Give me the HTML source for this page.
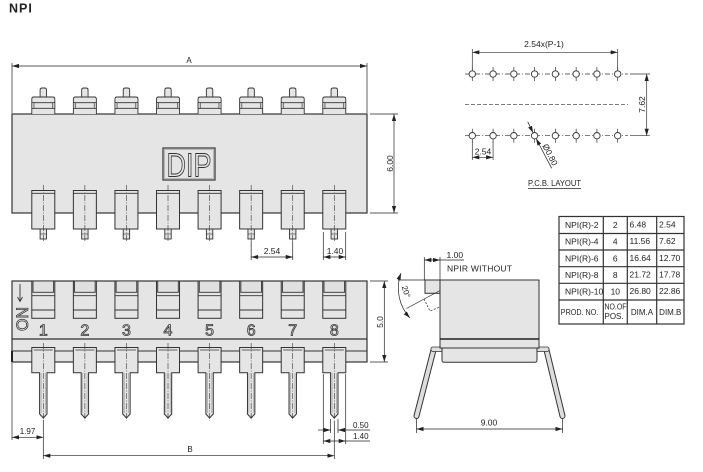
<!DOCTYPE html>
<html><head><meta charset="utf-8"><style>
html,body{margin:0;padding:0;background:#fff;}
svg{display:block;}
</style></head><body>
<svg width="703" height="472" viewBox="0 0 703 472" xmlns="http://www.w3.org/2000/svg" font-family="Liberation Sans, sans-serif">
<defs>
<marker id="ar" markerWidth="7" markerHeight="5" refX="7" refY="2.5" orient="auto-start-reverse" markerUnits="userSpaceOnUse"><path d="M0,0.4 L7,2.5 L0,4.6 Z" fill="#222"/></marker>
<g id="ta">
 <path d="M-3.2,97 V90 Q-3.2,88 -1.2,88 H1.2 Q3.2,88 3.2,90 V97" fill="#e5e5e6" stroke="#333" stroke-width="0.9"/>
 <path d="M-11.5,114 V99 Q-11.5,97 -9.5,97 H9.5 Q11.5,97 11.5,99 V114" fill="#e5e5e6" stroke="#333" stroke-width="0.9"/>
 <path d="M-11.5,102.7 H11.5 M-11.5,108.3 H11.5" stroke="#333" stroke-width="0.8" fill="none"/>
 <rect x="-11.5" y="102.7" width="2.2" height="5.6" fill="#ccc" stroke="#333" stroke-width="0.6"/>
 <rect x="9.3" y="102.7" width="2.2" height="5.6" fill="#ccc" stroke="#333" stroke-width="0.6"/>
</g>
<g id="bs">
 <rect x="-11.5" y="190.5" width="23" height="38.5" fill="#e5e5e6" stroke="#333" stroke-width="1"/>
 <path d="M-11.5,193.3 H11.5" stroke="#333" stroke-width="0.8"/>
 <rect x="-3.2" y="229" width="6.4" height="10" fill="#e5e5e6" stroke="#333" stroke-width="0.9"/>
 <path d="M-3.2,234 H3.2" stroke="#333" stroke-width="0.6"/>
 <path d="M0,185 V242" stroke="#333" stroke-width="0.6" stroke-dasharray="6,1.5,1,1.5"/>
</g>
<g id="fs">
 <rect x="-11.5" y="281" width="23" height="37.3" fill="#e5e5e6" stroke="#333" stroke-width="1"/>
 <rect x="-10.3" y="281" width="20.6" height="11.3" fill="#e0e0e1" stroke="#333" stroke-width="0.9"/>
 <path d="M-11.5,295.7 H11.5 M-11.5,310 H11.5" stroke="#333" stroke-width="0.9"/>
</g>
<g id="fp">
 <path d="M-11.5,347.5 H11.5 V372.7 H3.7 V414 L0,418 L-3.7,414 V372.7 H-11.5 Z" fill="#e5e5e6" stroke="#333" stroke-width="1"/>
 <path d="M-9.5,350 H9.5" stroke="#333" stroke-width="0.7"/>
 <path d="M-2.2,373 V413 M2.2,373 V413" stroke="#999" stroke-width="0.6"/>
 <path d="M0,343 V421" stroke="#333" stroke-width="0.6" stroke-dasharray="6,1.5,1,1.5"/>
</g>
</defs>

<text x="9" y="12.5" font-size="12.5" font-weight="bold" letter-spacing="1" fill="#222">NPI</text>

<!-- TOP VIEW -->
<g stroke="#222" stroke-width="0.7" fill="none">
 <path d="M12,63V113 M367,63V113"/>
 <line x1="12" y1="66" x2="367" y2="66" marker-start="url(#ar)" marker-end="url(#ar)"/>
 <path d="M370,114H398 M370,213H398"/>
 <line x1="394" y1="114" x2="394" y2="213" marker-start="url(#ar)" marker-end="url(#ar)"/>
 <path d="M251.15,241V260 M292.72,241V260 M323.3,232V260 M345.7,232V260"/>
 <line x1="251.15" y1="257" x2="292.72" y2="257" marker-start="url(#ar)" marker-end="url(#ar)"/>
 <line x1="323.3" y1="257" x2="345.7" y2="257" marker-start="url(#ar)" marker-end="url(#ar)"/>
</g>
<text x="189" y="63" font-size="8" text-anchor="middle" fill="#222">A</text>
<text transform="translate(393,163.5) rotate(-90)" font-size="8.5" text-anchor="middle" fill="#222">6.00</text>
<text x="272" y="254" font-size="8.5" text-anchor="middle" fill="#222">2.54</text>
<text x="335" y="254" font-size="8.5" text-anchor="middle" fill="#222">1.40</text>

<rect x="12" y="114" width="355" height="99" fill="#e5e5e6" stroke="#333" stroke-width="1.2"/>
<use href="#ta" x="43.3"/><use href="#ta" x="84.87"/><use href="#ta" x="126.44"/><use href="#ta" x="168.01"/>
<use href="#ta" x="209.58"/><use href="#ta" x="251.15"/><use href="#ta" x="292.72"/><use href="#ta" x="334.29"/>
<use href="#bs" x="43.3"/><use href="#bs" x="84.87"/><use href="#bs" x="126.44"/><use href="#bs" x="168.01"/>
<use href="#bs" x="209.58"/><use href="#bs" x="251.15"/><use href="#bs" x="292.72"/><use href="#bs" x="334.29"/>

<rect x="163" y="148" width="52" height="32" fill="none" stroke="#333" stroke-width="1.2"/>
<rect x="164.6" y="149.6" width="48.8" height="28.8" fill="none" stroke="#999" stroke-width="0.6"/>
<text x="189" y="176.5" font-size="33" text-anchor="middle" textLength="45" lengthAdjust="spacingAndGlyphs" fill="#e5e5e6" stroke="#333" stroke-width="0.9">DIP</text>

<!-- PCB LAYOUT -->
<g stroke="#333" stroke-width="0.7" fill="none">
 <path d="M465,74H628 M465,135.7H628" stroke-dasharray="5,2,1,2"/>
 <path d="M465,104.3H628" stroke-dasharray="4,2"/>
 <path d="M630,74H650 M630,135.7H650"/>
 <path d="M472.3,49V70 M617.69,49V70 M472.3,141V160 M493.07,141V160"/>
 <line x1="472.3" y1="52.3" x2="617.69" y2="52.3" marker-start="url(#ar)" marker-end="url(#ar)"/>
 <line x1="646.7" y1="74" x2="646.7" y2="135.7" marker-start="url(#ar)" marker-end="url(#ar)"/>
 <line x1="472.3" y1="157.3" x2="493.07" y2="157.3" marker-start="url(#ar)" marker-end="url(#ar)"/>
 <path d="M472.3,67V81 M493.07,67V81 M513.84,67V81 M534.61,67V81 M555.38,67V81 M576.15,67V81 M596.92,67V81 M617.69,67V81"/>
 <path d="M472.3,128.7V142.7 M493.07,128.7V142.7 M513.84,128.7V142.7 M534.61,128.7V142.7 M555.38,128.7V142.7 M576.15,128.7V142.7 M596.92,128.7V142.7 M617.69,128.7V142.7"/>
</g>
<g fill="#fff" stroke="#333" stroke-width="0.9">
 <circle cx="472.3" cy="74" r="3.2"/><circle cx="493.07" cy="74" r="3.2"/><circle cx="513.84" cy="74" r="3.2"/><circle cx="534.61" cy="74" r="3.2"/>
 <circle cx="555.38" cy="74" r="3.2"/><circle cx="576.15" cy="74" r="3.2"/><circle cx="596.92" cy="74" r="3.2"/><circle cx="617.69" cy="74" r="3.2"/>
 <circle cx="472.3" cy="135.7" r="3.2"/><circle cx="493.07" cy="135.7" r="3.2"/><circle cx="513.84" cy="135.7" r="3.2"/><circle cx="534.61" cy="135.7" r="3.2"/>
 <circle cx="555.38" cy="135.7" r="3.2"/><circle cx="576.15" cy="135.7" r="3.2"/><circle cx="596.92" cy="135.7" r="3.2"/><circle cx="617.69" cy="135.7" r="3.2"/>
</g>
<g stroke="#222" stroke-width="0.7" fill="none">
 <line x1="527.7" y1="121.7" x2="533.1" y2="132.9" marker-end="url(#ar)"/>
 <line x1="551.7" y1="168.3" x2="536.1" y2="138.5" marker-end="url(#ar)"/>
 <path d="M528,188.5H581"/>
</g>
<text x="544" y="47" font-size="8.5" text-anchor="middle" fill="#222">2.54x(P-1)</text>
<text transform="translate(645,104.5) rotate(-90)" font-size="8.5" text-anchor="middle" fill="#222">7.62</text>
<text x="483" y="154.5" font-size="8.5" text-anchor="middle" fill="#222">2.54</text>
<text transform="translate(547.5,156) rotate(62.7)" font-size="8.5" text-anchor="middle" fill="#222">Ø0.80</text>
<text x="528" y="186" font-size="8" textLength="53" lengthAdjust="spacingAndGlyphs" fill="#222">P.C.B. LAYOUT</text>

<!-- TABLE -->
<g stroke="#333" stroke-width="1.2" fill="none">
 <rect x="559" y="216.5" width="125" height="107.5"/>
 <path d="M559,233.5H684 M559,250H684 M559,266.7H684 M559,283.3H684 M559,300H684"/>
 <path d="M603.3,216.5V324 M627.3,216.5V324 M656.7,216.5V324"/>
</g>
<g font-size="8.5" fill="#222">
 <text x="565" y="228">NPI(R)-2</text><text x="615.3" y="228" text-anchor="middle">2</text><text x="629.5" y="227.5">6.48</text><text x="659" y="227.5">2.54</text>
 <text x="565" y="244.7">NPI(R)-4</text><text x="615.3" y="244.7" text-anchor="middle">4</text><text x="629.5" y="244.2">11.56</text><text x="659" y="244.2">7.62</text>
 <text x="565" y="261.3">NPI(R)-6</text><text x="615.3" y="261.3" text-anchor="middle">6</text><text x="629.5" y="260.8">16.64</text><text x="659" y="260.8">12.70</text>
 <text x="565" y="278">NPI(R)-8</text><text x="615.3" y="278" text-anchor="middle">8</text><text x="629.5" y="277.5">21.72</text><text x="659" y="277.5">17.78</text>
 <text x="565" y="294.6">NPI(R)-10</text><text x="615.3" y="294.6" text-anchor="middle">10</text><text x="629.5" y="294.1">26.80</text><text x="659" y="294.1">22.86</text>
</g>
<g font-size="8" fill="#222">
 <text x="560.8" y="315" textLength="37.5" lengthAdjust="spacingAndGlyphs">PROD. NO.</text>
 <text x="604.5" y="309.5" textLength="22" lengthAdjust="spacingAndGlyphs">NO.OF</text>
 <text x="604.5" y="319">POS.</text>
 <text x="642" y="315" text-anchor="middle">DIM.A</text>
 <text x="670.3" y="315" text-anchor="middle">DIM.B</text>
</g>

<!-- FRONT VIEW -->
<rect x="12" y="281" width="355" height="81" fill="#e5e5e6" stroke="#333" stroke-width="1.2"/>
<path d="M12,339H367" stroke="#333" stroke-width="1.3"/>
<path d="M12,351H367" stroke="#333" stroke-width="1"/>
<path d="M12,351V362" stroke="#222" stroke-width="2"/>
<use href="#fs" x="43.3"/><use href="#fs" x="84.87"/><use href="#fs" x="126.44"/><use href="#fs" x="168.01"/>
<use href="#fs" x="209.58"/><use href="#fs" x="251.15"/><use href="#fs" x="292.72"/><use href="#fs" x="334.29"/>
<use href="#fp" x="43.3"/><use href="#fp" x="84.87"/><use href="#fp" x="126.44"/><use href="#fp" x="168.01"/>
<use href="#fp" x="209.58"/><use href="#fp" x="251.15"/><use href="#fp" x="292.72"/><use href="#fp" x="334.29"/>
<g font-size="16" text-anchor="middle" fill="#f4f4f4" stroke="#333" stroke-width="0.8">
 <text x="43.3" y="335.5">1</text><text x="84.87" y="335.5">2</text><text x="126.44" y="335.5">3</text><text x="168.01" y="335.5">4</text>
 <text x="209.58" y="335.5">5</text><text x="251.15" y="335.5">6</text><text x="292.72" y="335.5">7</text><text x="334.29" y="335.5">8</text>
</g>
<path d="M20,284V301 M17.5,297 L20,301.5 L22.5,297" stroke="#333" stroke-width="0.9" fill="none"/>
<text transform="translate(28,319) rotate(-90)" font-size="17" text-anchor="middle" textLength="24" lengthAdjust="spacingAndGlyphs" fill="#f4f4f4" stroke="#333" stroke-width="0.8">ON</text>

<g stroke="#222" stroke-width="0.7" fill="none">
 <path d="M370,281H388 M370,362H388"/>
 <line x1="384.3" y1="281" x2="384.3" y2="362" marker-start="url(#ar)" marker-end="url(#ar)"/>
 <path d="M12,363V440 M43.3,420V459 M334.29,421V459"/>
 <line x1="12" y1="437.3" x2="43.3" y2="437.3" marker-start="url(#ar)" marker-end="url(#ar)"/>
 <line x1="43.3" y1="455.7" x2="334.29" y2="455.7" marker-start="url(#ar)" marker-end="url(#ar)"/>
 <path d="M323.3,374V444 M345.7,374V444 M330.6,419V433 M338,419V433"/>
 <line x1="318" y1="430" x2="330.6" y2="430" marker-end="url(#ar)"/>
 <line x1="370" y1="430" x2="338" y2="430" marker-end="url(#ar)"/>
 <line x1="323.3" y1="441" x2="345.7" y2="441" marker-start="url(#ar)" marker-end="url(#ar)"/>
 <path d="M345.7,441H370"/>
</g>
<text transform="translate(383,322) rotate(-90)" font-size="8.5" text-anchor="middle" fill="#222">5.0</text>
<text x="27.5" y="434" font-size="8" text-anchor="middle" fill="#222">1.97</text>
<text x="190" y="452" font-size="8" text-anchor="middle" fill="#222">B</text>
<text x="353" y="428" font-size="8" fill="#222">0.50</text>
<text x="353" y="439" font-size="8" fill="#222">1.40</text>

<!-- SIDE VIEW -->
<line x1="433.5" y1="350" x2="416.5" y2="416" stroke="#333" stroke-width="6" stroke-linecap="round"/>
<line x1="433.5" y1="350" x2="416.5" y2="416" stroke="#ddd" stroke-width="4" stroke-linecap="round"/>
<line x1="546.5" y1="350" x2="562.5" y2="416" stroke="#333" stroke-width="6" stroke-linecap="round"/>
<line x1="546.5" y1="350" x2="562.5" y2="416" stroke="#ddd" stroke-width="4" stroke-linecap="round"/>
<rect x="431" y="347" width="12" height="4.5" rx="2" fill="#ddd" stroke="#333" stroke-width="0.8"/>
<rect x="536" y="347" width="13" height="4.5" rx="2" fill="#ddd" stroke="#333" stroke-width="0.8"/>
<rect x="442" y="346" width="95" height="16.3" rx="2" fill="#e5e5e6" stroke="#333" stroke-width="1"/>
<rect x="440" y="280" width="99" height="68" fill="#e5e5e6" stroke="#333" stroke-width="1"/>
<path d="M440,339H539" stroke="#222" stroke-width="1.5"/>
<rect x="425" y="280" width="15" height="13.3" fill="#e5e5e6" stroke="#333" stroke-width="1"/>
<g stroke="#222" stroke-width="0.7" fill="none">
 <path d="M398,280H425"/>
 <path d="M406.5,308.5 L440,290.5"/>
 <path d="M424,299 L430,311 L440,307" stroke-dasharray="2,1.5"/>
 <path d="M401,273 A44,44 0 0,0 410,318" marker-start="url(#ar)" marker-end="url(#ar)"/>
 <path d="M424.3,257V280 M440,257V280"/>
 <line x1="424.3" y1="260" x2="440" y2="260" marker-start="url(#ar)" marker-end="url(#ar)"/>
 <path d="M440,260H464"/>
 <path d="M416.5,419V433 M562.5,419V433"/>
 <line x1="416.5" y1="429" x2="562.5" y2="429" marker-start="url(#ar)" marker-end="url(#ar)"/>
</g>
<text transform="translate(403.5,292.5) rotate(72)" font-size="8" text-anchor="middle" fill="#222">20°</text>
<text x="446.5" y="258" font-size="8.5" fill="#222">1.00</text>
<text x="447" y="271.5" font-size="8.5" textLength="65" fill="#222">NPIR  WITHOUT</text>
<text x="489" y="425.5" font-size="8.5" text-anchor="middle" fill="#222">9.00</text>
</svg>
</body></html>
